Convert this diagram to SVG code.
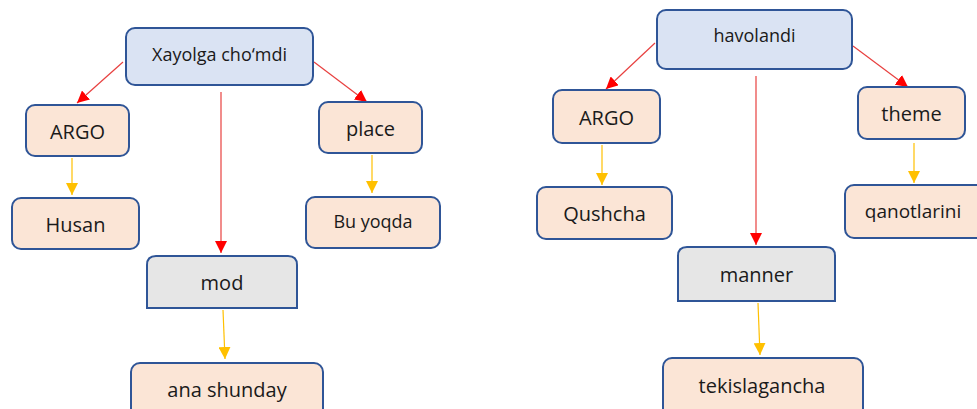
<svg xmlns="http://www.w3.org/2000/svg" width="977" height="409" viewBox="0 0 977 409">
<style>
.box{stroke:#2f5597;stroke-width:2}
.blue{fill:#dae3f3}
.peach{fill:#fbe5d6}
.gray{fill:#e6e6e6}
text{font-family:"Open Sans","Liberation Sans",sans-serif;font-size:20px;fill:#1a1a1a;text-anchor:middle;dominant-baseline:central}
.sm{font-size:18px}
.md{font-size:19px}
.red{stroke:#e8403f;stroke-width:1.2;fill:none;marker-end:url(#ar)}
.yel{stroke:#ffc000;stroke-width:1.2;fill:none;marker-end:url(#ay)}
</style>
<defs>
<marker id="ar" viewBox="0 0 12 12" refX="12" refY="6" markerWidth="12" markerHeight="12" markerUnits="userSpaceOnUse" orient="auto"><path d="M0,0 L12,6 L0,12 Z" fill="#ff0000"/></marker>
<marker id="ay" viewBox="0 0 12 12" refX="12" refY="6" markerWidth="12" markerHeight="12" markerUnits="userSpaceOnUse" orient="auto"><path d="M0,0 L12,6 L0,12 Z" fill="#ffc000"/></marker>
</defs>
<rect width="977" height="409" fill="#ffffff"/>
<g id="connectors">
<line class="red" x1="123" y1="62" x2="77" y2="103"/>
<line class="red" x1="314" y1="62" x2="367" y2="102"/>
<line class="red" x1="221" y1="92" x2="221" y2="253"/>
<line class="yel" x1="72" y1="158" x2="72" y2="195"/>
<line class="yel" x1="372" y1="155" x2="372" y2="193"/>
<line class="yel" x1="223" y1="310" x2="225" y2="359"/>
<line class="red" x1="655" y1="43" x2="606" y2="89"/>
<line class="red" x1="853" y1="46" x2="908" y2="87"/>
<line class="red" x1="756" y1="76" x2="756" y2="245"/>
<line class="yel" x1="602" y1="145" x2="602" y2="185"/>
<line class="yel" x1="914" y1="143" x2="914" y2="183"/>
<line class="yel" x1="758" y1="303" x2="760" y2="355"/>
</g>
<g id="n-xayolga"><rect class="box blue" x="126" y="28" width="187" height="57" rx="9"/><text class="sm" x="219.5" y="54">Xayolga cho‘mdi</text></g>
<g id="n-argo1"><rect class="box peach" x="26" y="105" width="103" height="51" rx="9"/><text x="77.5" y="131">ARGO</text></g>
<g id="n-husan"><rect class="box peach" x="12" y="198" width="127" height="51" rx="9"/><text x="75.5" y="224">Husan</text></g>
<g id="n-place"><rect class="box peach" x="319" y="102" width="103" height="51" rx="9"/><text x="370.5" y="128">place</text></g>
<g id="n-buyoqda"><rect class="box peach" x="306" y="197" width="134" height="51" rx="9"/><text class="sm" x="373" y="221">Bu yoqda</text></g>
<g id="n-mod"><path class="box gray" d="M147,308 L147,265 Q147,256 156,256 L288,256 Q297,256 297,265 L297,308 Z"/><text x="222" y="282">mod</text></g>
<g id="n-ana"><rect class="box peach" x="131" y="363" width="192" height="60" rx="9"/><text x="227" y="389">ana shunday</text></g>
<g id="n-havolandi"><rect class="box blue" x="657" y="10" width="195" height="59" rx="9"/><text class="sm" x="754.5" y="35">havolandi</text></g>
<g id="n-argo2"><rect class="box peach" x="553" y="90" width="107" height="53" rx="9"/><text x="606.5" y="117">ARGO</text></g>
<g id="n-qushcha"><rect class="box peach" x="537" y="187" width="135" height="52" rx="9"/><text x="604.5" y="213">Qushcha</text></g>
<g id="n-theme"><rect class="box peach" x="858" y="87" width="107" height="52" rx="9"/><text x="911.5" y="113">theme</text></g>
<g id="n-qanotlarini"><rect class="box peach" x="845" y="185" width="140" height="53" rx="9"/><text class="md" x="913" y="211">qanotlarini</text></g>
<g id="n-manner"><path class="box gray" d="M678,301 L678,256 Q678,247 687,247 L826,247 Q835,247 835,256 L835,301 Z"/><text x="756.5" y="274">manner</text></g>
<g id="n-tekis"><rect class="box peach" x="663" y="358" width="200" height="62" rx="9"/><text x="762" y="385">tekislagancha</text></g>
</svg>
